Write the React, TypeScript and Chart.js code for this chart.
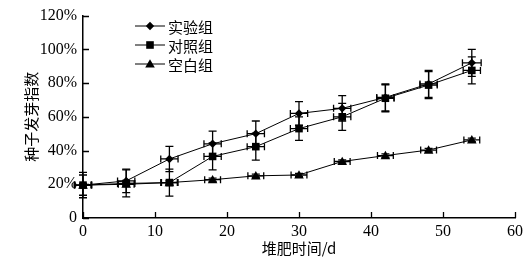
import React, { useEffect, useRef } from "react";
import { Chart, registerables } from "chart.js";

Chart.register(...registerables);

const days = [0, 6, 12, 18, 24, 30, 36, 42, 48, 54];
const expVals = [19.5, 22, 35, 44, 50, 62, 65, 71.5, 79.5, 92];
const ctrlVals = [19.5, 20.5, 21, 36.5, 42.3, 53, 60, 71, 78.8, 87.5];
const blankVals = [19.5, 20, 21, 22.7, 25, 25.5, 33.5, 37, 40.3, 46.3];
const expErr = [7.5, 7, 7.5, 7.5, 7.5, 7, 7.5, 8, 8, 8];
const ctrlErr = [6, 8, 8, 8, 8, 7, 8, 8, 8, 8];
const blankErr = [1, 1, 1, 1, 1, 1, 1, 1, 1, 1];
const expDayErr = [1.2, 1.2, 1.2, 1.2, 1.2, 1.2, 1.2, 1.2, 1.2, 1.3];
const ctrlDayErr = [1.2, 1.2, 1.2, 1.2, 1.2, 1.2, 1.2, 1.2, 1.2, 1.2];
const blankDayErr = [1.1, 1.1, 1.1, 1.1, 1.1, 1.1, 1.1, 1.1, 1.1, 1.1];
const seriesNames = ["实验组", "对照组", "空白组"];
const xTitle = "堆肥时间/d";
const yTitle = "种子发芽指数";

const SERIF = "'Liberation Serif', 'Times New Roman', serif";
const CJK = "'Noto Sans CJK SC', sans-serif";

function drawMarker(ctx: CanvasRenderingContext2D, style: string, x: number, y: number) {
  ctx.beginPath();
  if (style === "diamond") {
    const r = 4.2;
    ctx.moveTo(x, y - r);
    ctx.lineTo(x + r, y);
    ctx.lineTo(x, y + r);
    ctx.lineTo(x - r, y);
    ctx.closePath();
  } else if (style === "square") {
    const h = 3.8;
    ctx.rect(x - h, y - h, 2 * h, 2 * h);
  } else {
    const r = 4.8;
    ctx.moveTo(x, y - r);
    ctx.lineTo(x + r, y + r * 0.75);
    ctx.lineTo(x - r, y + r * 0.75);
    ctx.closePath();
  }
  ctx.fillStyle = "#000";
  ctx.fill();
}

const errSets = [
  { y: expErr, x: expDayErr },
  { y: ctrlErr, x: ctrlDayErr },
  { y: blankErr, x: blankDayErr },
];
const markerStyles = ["diamond", "square", "triangle"];

const customPlugin = {
  id: "custom",
  beforeDatasetsDraw(chart: any) {
    const ctx: CanvasRenderingContext2D = chart.ctx;
    const xs = chart.scales.x;
    const ys = chart.scales.y;
    ctx.save();
    ctx.strokeStyle = "#000";
    ctx.lineWidth = 1.3;
    chart.data.datasets.forEach((ds: any, i: number) => {
      ds.data.forEach((p: any, j: number) => {
        const px = xs.getPixelForValue(p.x);
        const py = ys.getPixelForValue(p.y);
        const ey = errSets[i].y[j];
        const ex = errSets[i].x[j];
        const top = ys.getPixelForValue(p.y + ey);
        const bot = ys.getPixelForValue(p.y - ey);
        const lft = xs.getPixelForValue(p.x - ex);
        const rgt = xs.getPixelForValue(p.x + ex);
        ctx.beginPath();
        ctx.moveTo(px, top);
        ctx.lineTo(px, bot);
        ctx.moveTo(px - 4, top);
        ctx.lineTo(px + 4, top);
        ctx.moveTo(px - 4, bot);
        ctx.lineTo(px + 4, bot);
        ctx.moveTo(lft, py);
        ctx.lineTo(rgt, py);
        ctx.moveTo(lft, py - 3.5);
        ctx.lineTo(lft, py + 3.5);
        ctx.moveTo(rgt, py - 3.5);
        ctx.lineTo(rgt, py + 3.5);
        ctx.stroke();
      });
    });
    ctx.restore();
  },
  afterDatasetsDraw(chart: any) {
    const ctx: CanvasRenderingContext2D = chart.ctx;
    const xs = chart.scales.x;
    const ys = chart.scales.y;
    const area = chart.chartArea;
    ctx.save();
    // markers
    chart.data.datasets.forEach((ds: any, i: number) => {
      ds.data.forEach((p: any) => {
        drawMarker(ctx, markerStyles[i], xs.getPixelForValue(p.x), ys.getPixelForValue(p.y));
      });
    });
    // inner ticks
    ctx.strokeStyle = "#000";
    ctx.lineWidth = 1.3;
    ctx.beginPath();
    xs.ticks.forEach((t: any) => {
      const px = Math.round(xs.getPixelForValue(t.value)) + 0.5;
      ctx.moveTo(px, area.bottom);
      ctx.lineTo(px, area.bottom - 6);
    });
    ys.ticks.forEach((t: any) => {
      const py = Math.round(ys.getPixelForValue(t.value)) + 0.5;
      ctx.moveTo(area.left, py);
      ctx.lineTo(area.left + 6, py);
    });
    ctx.stroke();
    // legend
    const lx0 = 135;
    const lx1 = 165;
    const rows = [26, 45, 64];
    ctx.font = `15px ${CJK}`;
    ctx.textBaseline = "middle";
    ctx.textAlign = "left";
    rows.forEach((ly, i) => {
      ctx.beginPath();
      ctx.lineWidth = 1;
      ctx.moveTo(lx0, ly);
      ctx.lineTo(lx1, ly);
      ctx.stroke();
      drawMarker(ctx, markerStyles[i], (lx0 + lx1) / 2, ly);
      ctx.fillStyle = "#000";
      ctx.fillText(seriesNames[i], lx1 + 3, ly + 1);
    });
    ctx.restore();
  },
};

function makeData(vals: number[]) {
  return days.map((d, i) => ({ x: d, y: vals[i] }));
}

export default function App() {
  const ref = useRef<HTMLCanvasElement | null>(null);
  useEffect(() => {
    document.body.style.margin = "0";
    if (!ref.current) return;
    const common = {
      borderColor: "#000",
      borderWidth: 1,
      pointRadius: 0,
      pointHoverRadius: 0,
      fill: false,
      tension: 0,
    };
    const chart = new Chart(ref.current, {
      type: "line",
      data: {
        datasets: [
          { label: seriesNames[0], data: makeData(expVals), ...common },
          { label: seriesNames[1], data: makeData(ctrlVals), ...common },
          { label: seriesNames[2], data: makeData(blankVals), ...common },
        ],
      },
      options: {
        animation: false,
        responsive: false,
        maintainAspectRatio: false,
        layout: { padding: { top: 14, right: 13, left: 0, bottom: 0 } },
        plugins: { legend: { display: false }, tooltip: { enabled: false } },
        scales: {
          x: {
            type: "linear",
            min: 0,
            max: 60,
            ticks: {
              stepSize: 10,
              color: "#000",
              font: { family: SERIF, size: 16 },
              padding: 4,
              maxRotation: 0,
            },
            grid: { display: false, drawTicks: false },
            border: { display: true, color: "#000", width: 1.5 },
            title: {
              display: true,
              text: xTitle,
              color: "#000",
              font: { family: CJK, size: 15 },
              padding: { top: 0, bottom: 2 },
            },
            afterFit: (s: any) => {
              s.height = 41;
            },
          },
          y: {
            min: 0,
            max: 120,
            ticks: {
              stepSize: 20,
              color: "#000",
              font: { family: SERIF, size: 16 },
              padding: 6,
              callback: (v: any) => (v === 0 ? "0" : `${v}%`),
            },
            grid: { display: false, drawTicks: false },
            border: { display: true, color: "#000", width: 1.5 },
            title: {
              display: true,
              text: yTitle,
              color: "#000",
              font: { family: CJK, size: 15 },
              padding: { top: 22, bottom: 0 },
            },
            afterFit: (s: any) => {
              s.width = 83;
            },
          },
        },
      },
      plugins: [customPlugin],
    } as any);
    return () => chart.destroy();
  }, []);
  return (
    <div style={{ position: "absolute", left: 0, top: 0, width: 528, height: 259, background: "#fff" }}>
      <canvas ref={ref} width={528} height={259} style={{ width: 528, height: 259 }} />
    </div>
  );
}
